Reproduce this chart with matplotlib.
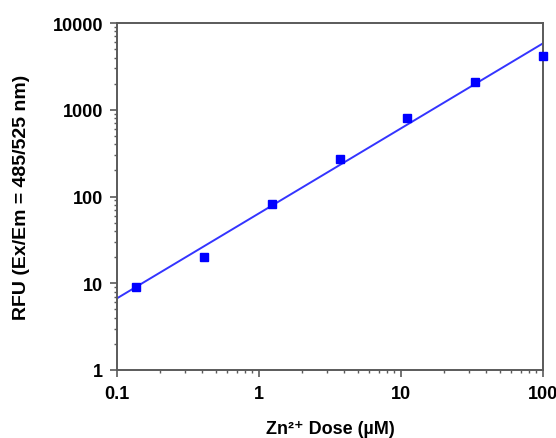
import matplotlib
matplotlib.use("Agg")
import matplotlib.pyplot as plt
from matplotlib.ticker import FuncFormatter, LogLocator, NullFormatter

# Zn2+ dose-response (3-fold dilution series)
dose_um = [0.137, 0.41, 1.23, 3.7, 11.1, 33.3, 100]
rfu = [9.1, 20, 82, 273, 800, 2070, 4200]

# fitted line end points
fit_dose = [0.1, 100]
fit_rfu = [6.7, 5830]

plt.rcParams["font.family"] = ["Liberation Sans", "DejaVu Sans"]
plt.rcParams["font.weight"] = "bold"

fig = plt.figure(figsize=(5.56, 4.39), dpi=100)
ax = fig.add_axes([0.2104, 0.1549, 0.7662, 0.7904])

ax.plot(fit_dose, fit_rfu, color="#3434ff", lw=1.4, zorder=2)
ax.plot(dose_um, rfu, "s", color="#0000ff", ms=5.5, zorder=3, clip_on=False)

ax.set_xscale("log")
ax.set_yscale("log")
ax.set_xlim(0.1, 100)
ax.set_ylim(1, 10000)

plain = FuncFormatter(lambda v, _: f"{v:g}")
ax.xaxis.set_major_formatter(plain)
ax.yaxis.set_major_formatter(plain)
ax.xaxis.set_minor_locator(LogLocator(base=10, subs=range(2, 10)))
ax.yaxis.set_minor_locator(LogLocator(base=10, subs=range(2, 10)))
ax.xaxis.set_minor_formatter(NullFormatter())
ax.yaxis.set_minor_formatter(NullFormatter())

for s in ax.spines.values():
    s.set_color("#5a5a5a")
    s.set_linewidth(1.4)
ax.tick_params(which="major", direction="out", length=5, width=1.2,
               color="#5a5a5a", labelsize=13)
ax.tick_params(axis="x", which="major", pad=6)
ax.tick_params(axis="y", which="major", pad=5)
ax.tick_params(which="minor", direction="out", length=2.5, width=1,
               color="#5a5a5a")
ax.tick_params(top=False, right=False, which="both")
for lbl in ax.get_xticklabels() + ax.get_yticklabels():
    lbl.set_fontweight("bold")

ax.set_xlabel("Zn²⁺ Dose (µM)", fontsize=13, fontweight="bold", va="center")
ax.set_ylabel("RFU (Ex/Em = 485/525 nm)", fontsize=14, fontweight="bold",
              va="center")
ax.xaxis.set_label_coords(0.5, -(430 - 371) / 347, transform=ax.transAxes)
ax.yaxis.set_label_coords(-(117 - 22) / 426, 0.5, transform=ax.transAxes)

fig.savefig("out.png", dpi=100)
